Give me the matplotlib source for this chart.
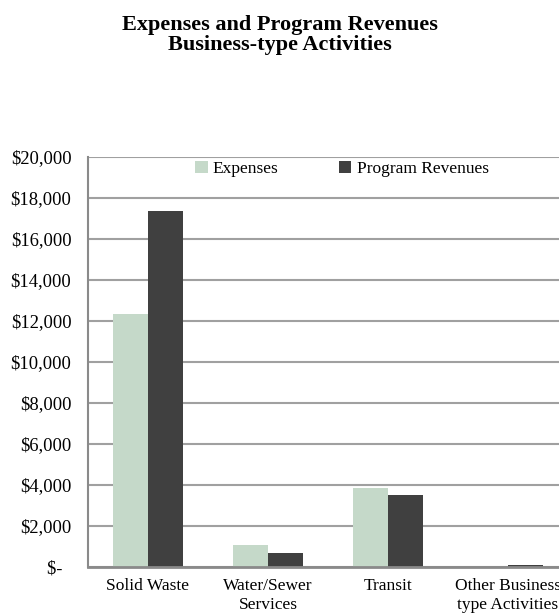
import matplotlib.pyplot as plt
import numpy as np
from matplotlib.ticker import FuncFormatter

# Datos
categorias = ["Solid Waste", "Water/Sewer\nServices", "Transit", "Other Business\ntype Activities"]
gastos = [12350, 1080, 3830, 0]
ingresos = [17350, 670, 3530, 90]
marcas_y = [0, 2000, 4000, 6000, 8000, 10000, 12000, 14000, 16000, 18000, 20000]

plt.rcParams['font.family'] = ['Liberation Serif', 'DejaVu Serif']

fig = plt.figure(figsize=(5.59, 6.14), dpi=100)
ax = fig.add_axes([88 / 559, 47 / 614, 480 / 559, 410 / 614])

x = np.arange(len(categorias))
ancho = 0.29
ax.bar(x - ancho / 2, gastos, ancho, color='#c5d9c9', label='Expenses', zorder=3)
ax.bar(x + ancho / 2, ingresos, ancho, color='#404040', label='Program Revenues', zorder=3)

ax.set_xlim(-0.5, len(categorias) - 0.5)
ax.set_ylim(0, 20000)
ax.set_yticks(marcas_y)
ax.yaxis.set_major_formatter(FuncFormatter(lambda v, p: '$-  ' if v == 0 else '${:,.0f}'.format(v)))
ax.set_xticks(x)
ax.set_xticklabels(categorias)
ax.tick_params(axis='x', length=0, labelsize=12.5, pad=8)
ax.tick_params(axis='y', length=0, labelsize=13.3, pad=12)

ax.grid(axis='y', color='#a0a0a0', linewidth=1.5, zorder=0)
for lado in ['top', 'right']:
    ax.spines[lado].set_visible(False)
ax.spines['left'].set_color('#8a8a8a')
ax.spines['left'].set_linewidth(1.5)
ax.spines['bottom'].set_color('#8a8a8a')
ax.spines['bottom'].set_linewidth(2)
ax.spines['bottom'].set_zorder(4)

ax.legend(loc='center', bbox_to_anchor=(254 / 480, 398 / 410), ncol=2, frameon=False,
          fontsize=12.5, handlelength=0.7, handleheight=0.7, handletextpad=0.3,
          columnspacing=3.5)

fig.text(0.5, 0.976, "Expenses and Program Revenues\nBusiness-type Activities",
         ha='center', va='top', fontsize=16, fontweight='bold', linespacing=1.05)

fig.savefig('out.png', dpi=100)
